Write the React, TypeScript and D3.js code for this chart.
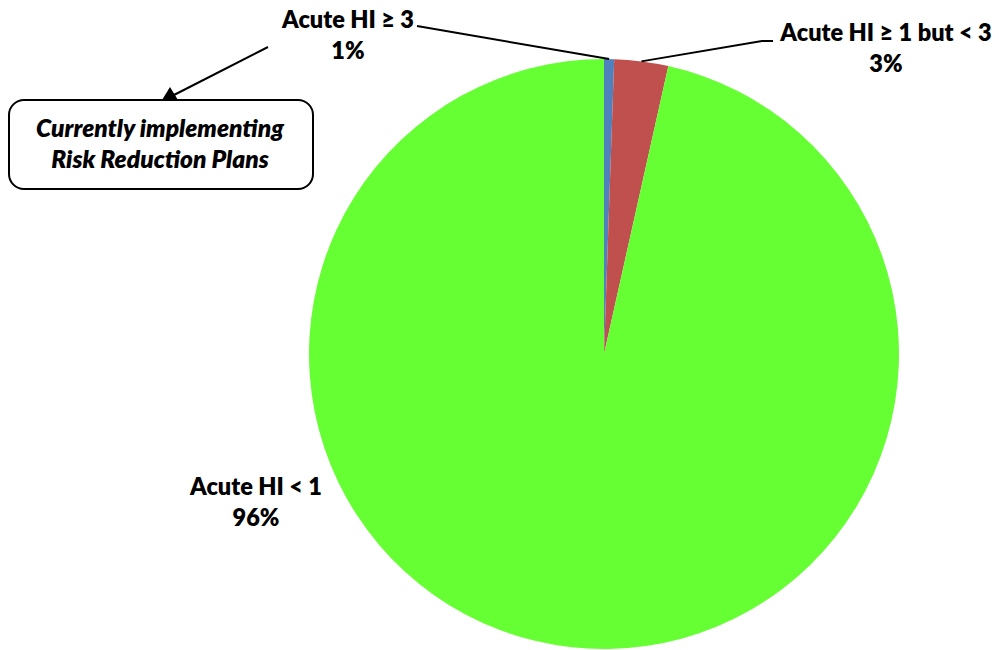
import React from "react";
import * as d3 from "d3";

const categories = ["Acute HI ≥ 3", "Acute HI ≥ 1 but < 3", "Acute HI < 1"];
const values = [0.55, 2.95, 96.5];
const percentLabels = ["1%", "3%", "96%"];
const colors = ["#4F81BD", "#C0504D", "#66FF33"];

const W = 999;
const H = 650;
const cx = 604;
const cy = 354;
const R = 295;

// label anchor positions (layout)
const labelPos = [
  { x: 348, y: 28, lead: [417, 26] },
  { x: 886, y: 41, lead: [773, 41] },
  { x: 256, y: 495, lead: null as null | number[] },
];

const FONT = "Lato, 'Open Sans', sans-serif";

export default function App() {
  const pie = d3
    .pie<number>()
    .sort(null)
    .value((d) => d)
    .startAngle(0)
    .endAngle(2 * Math.PI);
  const arcs = pie(values);
  const arcGen = d3.arc<d3.PieArcDatum<number>>().innerRadius(0).outerRadius(R);

  return (
    <svg
      width={W}
      height={H}
      style={{ position: "absolute", left: 0, top: 0, background: "#fff" }}
    >
      <g transform={`translate(${cx},${cy})`}>
        {arcs.map((a, i) => (
          <path key={i} d={arcGen(a) || ""} fill={colors[i]} />
        ))}
      </g>
      {arcs.map((a, i) => {
        const lp = labelPos[i];
        if (!lp.lead) return null;
        const mid = (a.startAngle + a.endAngle) / 2;
        const ex = cx + R * Math.sin(mid);
        const ey = cy - R * Math.cos(mid);
        const pts =
          i === 0
            ? `${lp.lead[0]},${lp.lead[1]} ${ex},${ey}`
            : `${lp.lead[0]},${lp.lead[1]} ${lp.lead[0] - 11},${lp.lead[1]} ${ex},${ey}`;
        return (
          <polyline
            key={"l" + i}
            points={pts}
            fill="none"
            stroke="#000"
            strokeWidth={2}
          />
        );
      })}
      {categories.map((c, i) => (
        <text
          key={"t" + i}
          x={labelPos[i].x}
          y={labelPos[i].y}
          textAnchor="middle"
          fontFamily={FONT}
          fontWeight={800}
          fontSize={23.5}
          fill="#000"
        >
          <tspan x={labelPos[i].x}>{c}</tspan>
          <tspan x={labelPos[i].x} dy={31}>
            {percentLabels[i]}
          </tspan>
        </text>
      ))}
      {/* callout */}
      <rect
        x={9}
        y={100}
        width={304}
        height={89}
        rx={15}
        ry={15}
        fill="#fff"
        stroke="#000"
        strokeWidth={2}
      />
      <line x1={268} y1={47} x2={172} y2={96} stroke="#000" strokeWidth={2} />
      <polygon points="162,100 178,100 170,87" fill="#000" />
      <text
        x={160}
        y={137}
        textAnchor="middle"
        fontFamily={FONT}
        fontWeight={800}
        fontStyle="italic"
        fontSize={24.5}
        fill="#000"
      >
        <tspan x={160}>Currently implementing</tspan>
        <tspan x={160} dy={31}>
          Risk Reduction Plans
        </tspan>
      </text>
    </svg>
  );
}
